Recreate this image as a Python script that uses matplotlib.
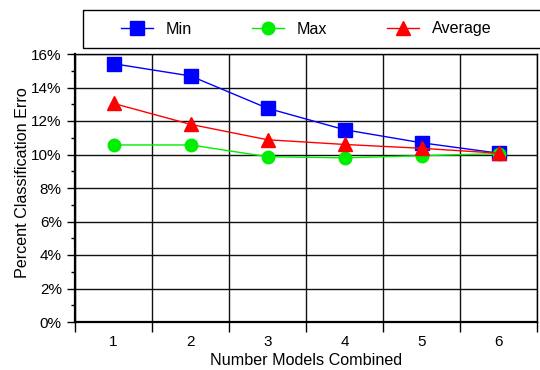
import matplotlib.pyplot as plt
from matplotlib.patches import Rectangle
from matplotlib.ticker import FuncFormatter, MultipleLocator

plt.rcParams['font.family'] = ['Liberation Sans', 'DejaVu Sans']
plt.rcParams['font.size'] = 11

models = [1, 2, 3, 4, 5, 6]
err_min = [15.42, 14.69, 12.76, 11.48, 10.70, 10.08]
err_max = [10.57, 10.57, 9.87, 9.80, 9.93, 10.05]
err_avg = [13.05, 11.80, 10.88, 10.60, 10.37, 10.08]

fig = plt.figure(figsize=(5.4, 3.7), dpi=100)
ax = fig.add_axes([75 / 540, 48 / 370, 462 / 540, 268 / 370])

line_width = 1
ax.plot(models, err_min, color='#0000ff', marker='s', markersize=10, linewidth=line_width, label='Min')
ax.plot(models, err_max, color='#00ee00', marker='o', markersize=9, linewidth=line_width, label='Max')
ax.plot(models, err_avg, color='#ff0000', marker='^', markersize=10, linewidth=line_width, label='Average')

ax.set_xlim(0.5, 6.5)
ax.set_ylim(0, 16)

# category labels in the middle, tick marks and grid on the boundaries
ax.set_xticks(models)
ax.set_xticks([m - 0.5 for m in models] + [6.5], minor=True)
ax.tick_params(axis='x', which='major', length=0, pad=9)
ax.tick_params(axis='x', which='minor', length=7, width=1, direction='out')
ax.grid(True, axis='x', which='minor', color='#111111', linewidth=1)

ax.yaxis.set_major_locator(MultipleLocator(2))
ax.yaxis.set_minor_locator(MultipleLocator(1))
ax.yaxis.set_major_formatter(FuncFormatter(lambda v, pos: f'{v:.0f}%'))
ax.tick_params(axis='y', which='major', length=6, width=1)
ax.tick_params(axis='y', which='minor', length=3, width=1)
ax.grid(True, axis='y', which='major', color='#111111', linewidth=1)
ax.set_axisbelow(True)

for side in ['left', 'bottom']:
    ax.spines[side].set_linewidth(1.6)
for side in ['top', 'right']:
    ax.spines[side].set_linewidth(1)

ax.set_xlabel('Number Models Combined', fontsize=11.6, labelpad=3)
ax.set_ylabel('Percent Classification Erro', fontsize=11.6)
ax.yaxis.set_label_coords(-0.097, 0.52)

# legend row inside its own box across the top
fig.patches.append(Rectangle((83 / 540, 1 - 48 / 370), 470 / 540, 38 / 370,
                             transform=fig.transFigure, facecolor='white',
                             edgecolor='black', linewidth=1, zorder=0))
fig.legend(loc='center left', ncol=3, frameon=False,
           bbox_to_anchor=(121 / 540, 1 - 29 / 370),
           handlelength=2.0, handletextpad=0.8, columnspacing=3.7,
           borderaxespad=0, borderpad=0, fontsize=11.6)

fig.savefig('out.png', dpi=100)
